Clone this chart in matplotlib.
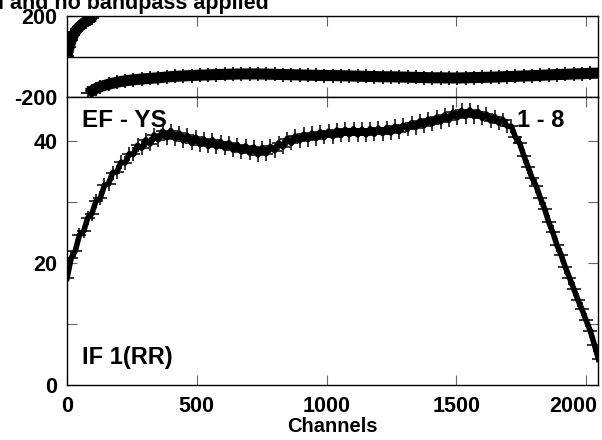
import matplotlib
matplotlib.use("Agg")
import matplotlib.pyplot as plt
import matplotlib.transforms as mtransforms
import numpy as np

plt.rcParams['font.family'] = ['Liberation Sans', 'DejaVu Sans']
plt.rcParams['font.weight'] = 'bold'
plt.rcParams['axes.unicode_minus'] = False

# Amplitude, one value every 16 channels
amp_ch = np.arange(0, 2049, 16)
amp = [17.5, 20.8, 22.0, 24.6, 25.2, 27.4, 28.1, 30.2, 30.6, 32.7,
       33.0, 34.8, 34.9, 36.5, 36.4, 37.9, 37.8, 39.3, 38.8, 40.2,
       39.5, 41.0, 40.2, 41.6, 40.5, 41.7, 40.4, 41.3, 40.0, 40.9,
       39.6, 40.6, 39.4, 40.3, 39.1, 40.2, 39.0, 39.9, 38.8, 39.7,
       38.5, 39.4, 38.2, 39.2, 38.0, 39.0, 37.7, 38.9, 37.9, 39.1,
       38.4, 39.7, 39.0, 40.4, 39.6, 40.8, 40.0, 41.1, 40.2, 41.3,
       40.4, 41.5, 40.6, 41.6, 40.7, 41.8, 40.9, 41.9, 41.0, 42.0,
       41.0, 41.9, 41.0, 42.0, 41.1, 42.1, 41.2, 42.2, 41.3, 42.4,
       41.5, 42.6, 41.9, 43.0, 42.2, 43.3, 42.5, 43.6, 42.8, 43.9,
       43.1, 44.3, 43.4, 44.7, 43.8, 45.0, 44.0, 45.1, 44.0, 44.8,
       43.7, 44.4, 43.3, 44.0, 42.9, 43.5, 42.4, 42.4, 40.6, 39.6,
       37.6, 35.8, 33.9, 32.6, 30.6, 28.9, 26.7, 25.0, 22.9, 21.3,
       19.3, 17.6, 15.8, 14.0, 12.4, 10.6, 8.9, 6.6, 4.2]

# Phase (deg): start of band before the wrap, then the main band
ph_ch_a = [0, 8, 16, 24, 32, 40, 48, 56, 64, 72, 80, 88, 96, 104]
ph_a = [5, 45, 80, 105, 122, 136, 147, 157, 165, 172, 179, 186, 192, 198]

ph_ch_b = [80, 96, 112, 128, 160, 192, 224, 256, 288, 320, 352, 384, 416,
           448, 480, 512, 544, 576, 608, 640, 672, 704, 736, 768, 800, 832,
           864, 896, 928, 960, 992, 1024, 1056, 1088, 1120, 1152, 1184, 1216,
           1248, 1280, 1312, 1344, 1376, 1408, 1440, 1472, 1504, 1536, 1568,
           1600, 1632, 1664, 1696, 1728, 1760, 1792, 1824, 1856, 1888, 1920,
           1952, 1984, 2016, 2048]
ph_b = [-182, -170, -158, -149, -137, -127, -120, -115, -111, -108, -105,
        -101, -98, -96, -94, -92, -91, -89, -88, -87, -86, -86, -86, -87,
        -88, -89, -90, -91, -92, -93, -94, -94, -95, -96, -97, -98, -99,
        -100, -100, -101, -102, -103, -104, -105, -105, -106, -106, -105,
        -104, -103, -102, -101, -99, -98, -96, -95, -93, -91, -89, -88,
        -86, -85, -83, -82]

fig = plt.figure(figsize=(6.02, 4.40), dpi=100)
ax_ph = fig.add_axes([0.1113, 0.7795, 0.8821, 0.1841])
ax_amp = fig.add_axes([0.1113, 0.125, 0.8821, 0.6545])

FS = 15.5
tick_kw = dict(direction='in', top=True, right=True, length=7.5,
               color='#666666', labelsize=FS, pad=7)

# phase panel
for c, p in [(ph_ch_a, ph_a), (ph_ch_b, ph_b)]:
    ax_ph.plot(c, p, '-', color='black', lw=8, solid_capstyle='butt')
    ax_ph.plot(c, p, '+', color='black', ms=10, mew=1.2)
ax_ph.axhline(0, color='black', lw=1)
ax_ph.set_xlim(0, 2046)
ax_ph.set_ylim(-200, 200)
ax_ph.set_yticks([-200, 200])
ax_ph.set_xticks([500, 1000, 1500, 2000])
ax_ph.tick_params(axis='both', **tick_kw)
ax_ph.tick_params(axis='x', labelbottom=False)

# amplitude panel
ax_amp.plot(amp_ch, amp, '-', color='black', lw=4)
ax_amp.plot(amp_ch, amp, '+', color='black', ms=10, mew=1.3, alpha=0.85)
ax_amp.set_xlim(0, 2046)
ax_amp.set_ylim(0, 47.2)
ax_amp.set_xticks([0, 500, 1000, 1500, 2000])
ax_amp.set_yticks([0, 10, 20, 30, 40])
ax_amp.set_yticklabels(['0', '', '20', '', '40'])
ax_amp.tick_params(axis='both', **tick_kw)
ax_amp.tick_params(axis='x', pad=8)
ax_amp.set_xlabel('Channels', fontsize=14.5, fontweight='bold', labelpad=0)

for ax in (ax_ph, ax_amp):
    for s in ax.spines.values():
        s.set_linewidth(1)
    for lab in ax.get_xticklabels() + ax.get_yticklabels():
        lab.set_fontweight('bold')

# last x label is pulled left so it stays inside the figure
last = ax_amp.get_xticklabels()[-1]
last.set_transform(last.get_transform() +
                   mtransforms.ScaledTranslation(-13 / 100, 0, fig.dpi_scale_trans))

ax_amp.text(0.028, 0.92, 'EF - YS', transform=ax_amp.transAxes,
            fontsize=17.5, fontweight='bold', va='center')
ax_amp.text(0.847, 0.92, '1 - 8', transform=ax_amp.transAxes,
            fontsize=17, fontweight='bold', va='center')
ax_amp.text(0.028, 0.097, 'IF 1(RR)', transform=ax_amp.transAxes,
            fontsize=17, fontweight='bold', va='center')

fig.text(-0.004, 1 - 9 / 440, 'l and no bandpass applied', fontsize=15.5,
         fontweight='bold', va='baseline', ha='left')

fig.savefig('out.png', dpi=100)
